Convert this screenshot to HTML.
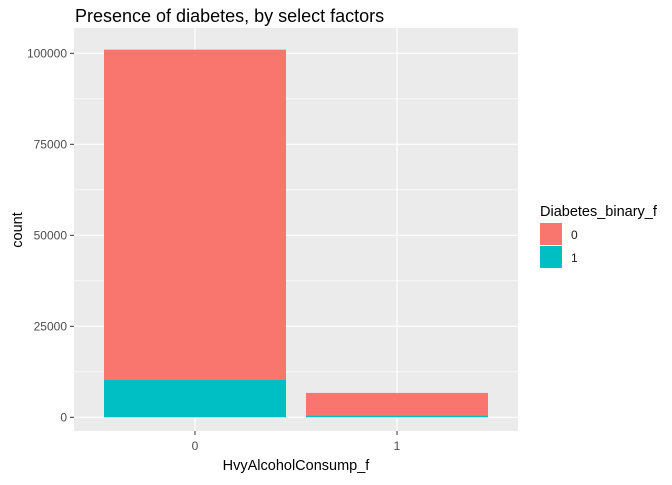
<!DOCTYPE html>
<html><head><meta charset="utf-8"><style>
body{margin:0;background:#fff;}
text{font-family:"Liberation Sans",Arial,sans-serif;}
</style></head><body>
<svg id="chart" width="672" height="480" xmlns="http://www.w3.org/2000/svg">
<text x="75" y="22" font-size="18" fill="#000">Presence of diabetes, by select factors</text>
<rect x="74" y="28" width="444" height="403" fill="#EBEBEB"/>
<g id="grid"></g>
<g id="bars"></g>
<g id="axes"></g>
<text x="296" y="470" font-size="14.5" text-anchor="middle" fill="#000">HvyAlcoholConsump_f</text>
<text transform="translate(22,230) rotate(-90)" font-size="14.5" text-anchor="middle" fill="#000">count</text>
<text x="540" y="216" font-size="14.5" fill="#000">Diabetes_binary_f</text>
<rect x="540" y="223" width="22" height="22" fill="#F8766D"/>
<text x="571" y="239" font-size="12" fill="#1a1a1a">0</text>
<rect x="540" y="246" width="22" height="22" fill="#00BFC4"/>
<text x="571" y="262" font-size="12" fill="#1a1a1a">1</text>
</svg>
<script>
const categories = ["0","1"];
const count0 = [90750, 6150];
const count1 = [10250, 550];
const yTicks = [0,25000,50000,75000,100000];
const yTickLabels = ["0","25000","50000","75000","100000"];
const NS="http://www.w3.org/2000/svg";
function y(v){return 417.3 - v*0.00364;}
function xc(i){return 195 + i*202;}
const bw=182;
function mk(tag,attrs,parent){const e=document.createElementNS(NS,tag);for(const k in attrs)e.setAttribute(k,attrs[k]);parent.appendChild(e);return e;}
const grid=document.getElementById('grid'),bars=document.getElementById('bars'),axes=document.getElementById('axes');
for(let i=0;i<yTicks.length-1;i++){
  const m=(yTicks[i]+yTicks[i+1])/2;
  const l=mk('line',{x1:74,x2:518,y1:y(m),y2:y(m),stroke:'#fff','stroke-width':0.6},grid);
  
  
}
yTicks.forEach((t,i)=>{
  const l=mk('line',{x1:74,x2:518,y1:y(t),y2:y(t),stroke:'#fff','stroke-width':1.2},grid);
  
  
  const tk=mk('line',{x1:70,x2:74,y1:y(t),y2:y(t),stroke:'#333','stroke-width':1},axes);
  
  
  const tx=mk('text',{x:67,y:y(t)+4,'font-size':12,'text-anchor':'end',fill:'#4d4d4d'},axes);
  tx.textContent=yTickLabels[i];
  
  
});
categories.forEach((c,i)=>{
  const l=mk('line',{x1:xc(i),x2:xc(i),y1:28,y2:431,stroke:'#fff','stroke-width':1.2},grid);
  
  
  const tot=count0[i]+count1[i];
  const b1=mk('rect',{x:xc(i)-bw/2,y:y(count1[i]),width:bw,height:y(0)-y(count1[i]),fill:'#00BFC4'},bars);
  
  
  const b0=mk('rect',{x:xc(i)-bw/2,y:y(tot),width:bw,height:y(count1[i])-y(tot),fill:'#F8766D'},bars);
  
  
  const tk=mk('line',{x1:xc(i),x2:xc(i),y1:431,y2:435,stroke:'#333','stroke-width':1},axes);
  
  
  const tx=mk('text',{x:xc(i),y:450,'font-size':12,'text-anchor':'middle',fill:'#4d4d4d'},axes);
  tx.textContent=c;
  
  
});
</script>
</body></html>
